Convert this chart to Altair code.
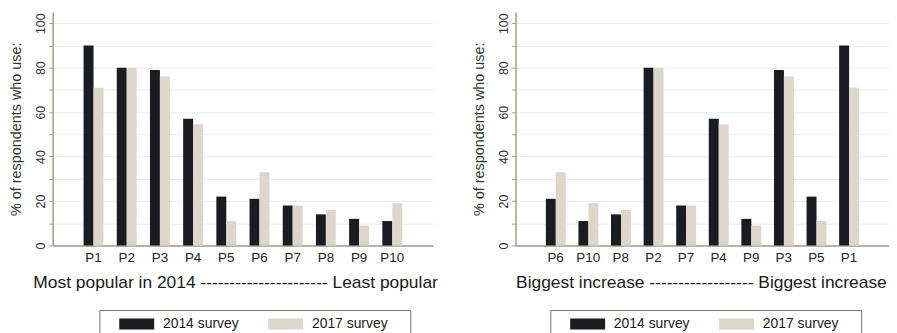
import altair as alt
import pandas as pd

products = ["P1", "P2", "P3", "P4", "P5", "P6", "P7", "P8", "P9", "P10"]
survey_2014 = [90, 80, 79, 57, 22, 21, 18, 14, 12, 11]
survey_2017 = [71, 80, 76, 54.5, 11, 33, 18, 16, 9, 19]
order_left = ["P1", "P2", "P3", "P4", "P5", "P6", "P7", "P8", "P9", "P10"]
order_right = ["P6", "P10", "P8", "P2", "P7", "P4", "P9", "P3", "P5", "P1"]
surveys = ["2014 survey", "2017 survey"]
colors = ["#1b1c22", "#ddd6cb"]
y_ticks = [0, 10, 20, 30, 40, 50, 60, 70, 80, 90, 100]
title_left = "Most popular in 2014 " + "-" * 22 + " Least popular"
title_right = "Biggest increase " + "-" * 18 + " Biggest increase"
y_title = "% of respondents who use:"

rows = []
for p, a, b in zip(products, survey_2014, survey_2017):
    rows.append({"product": p, "survey": surveys[0], "pct": a})
    rows.append({"product": p, "survey": surveys[1], "pct": b})
df = pd.DataFrame(rows)

AXIS_COLOR = "#a39b8d"
FONT = "Liberation Sans"
NBSP = "\u00a0"
# legend swatch: a 35 x 11 px rectangle; the extra move-to point reserves room on the right
SWATCH = "M11.7,0M-1,-0.5H2.2V0.5H-1Z"


def panel(order, title, title_x, legend_x, width):
    return alt.Chart(df).mark_bar().encode(
        x=alt.X(
            "product:N",
            sort=order,
            scale=alt.Scale(paddingInner=0.4, paddingOuter=0.93),
            axis=alt.Axis(
                title=title,
                labelAngle=0,
                ticks=False,
                labelPadding=5,
                labelFontSize=13.5,
                labelColor="#222222",
                domainColor=AXIS_COLOR,
                domainWidth=1.5,
                titleFontSize=17.5,
                titleFontWeight="normal",
                titleColor="#1a1a1a",
                titleX=title_x,
                titleY=37,
                titleAlign="left",
                titleAnchor="start",
                titleBaseline="middle",
            ),
        ),
        xOffset=alt.XOffset("survey:N", sort=surveys),
        y=alt.Y(
            "pct:Q",
            scale=alt.Scale(domain=[0, 105], nice=False),
            axis=alt.Axis(
                values=y_ticks,
                labelExpr="datum.value % 20 == 0 ? datum.label : ''",
                title=y_title,
                labelAngle=270,
                labelAlign="center",
                labelBaseline="middle",
                labelPadding=8,
                labelFontSize=12.5,
                labelColor="#333333",
                tickSize=4,
                tickColor=AXIS_COLOR,
                domainColor=AXIS_COLOR,
                domainWidth=1.5,
                grid=True,
                gridColor="#e8eeee",
                titleFontSize=14.5,
                titleFontWeight="normal",
                titleColor="#333333",
                titlePadding=11,
            ),
        ),
        color=alt.Color(
            "survey:N",
            scale=alt.Scale(domain=surveys, range=colors),
            legend=alt.Legend(
                orient="none",
                legendX=legend_x,
                legendY=300,
                direction="horizontal",
                title=NBSP,
                titleOrient="left",
                titlePadding=17,
                titleFontSize=14,
                symbolType=SWATCH,
                symbolSize=484,
                symbolStrokeWidth=0,
                symbolOpacity=1,
                labelFontSize=14,
                labelColor="#1a1a1a",
                labelOffset=22,
                columnPadding=10,
                padding=3,
                strokeColor="#7a7368",
                fillColor="#ffffff",
            ),
        ),
    ).properties(width=width, height=235)


left = panel(order_left, title_left, -20, 47, 383)
right = panel(order_right, title_right, 0, 35, 376)

chart = (
    alt.hconcat(left, right, spacing=34)
    .resolve_scale(color="independent")
    .properties(padding={"left": 1, "top": 3, "right": 0, "bottom": 0})
    .configure(font=FONT)
    .configure_view(stroke=None)
)

chart.save("out.html", embed_options={"renderer": "svg", "actions": False})
